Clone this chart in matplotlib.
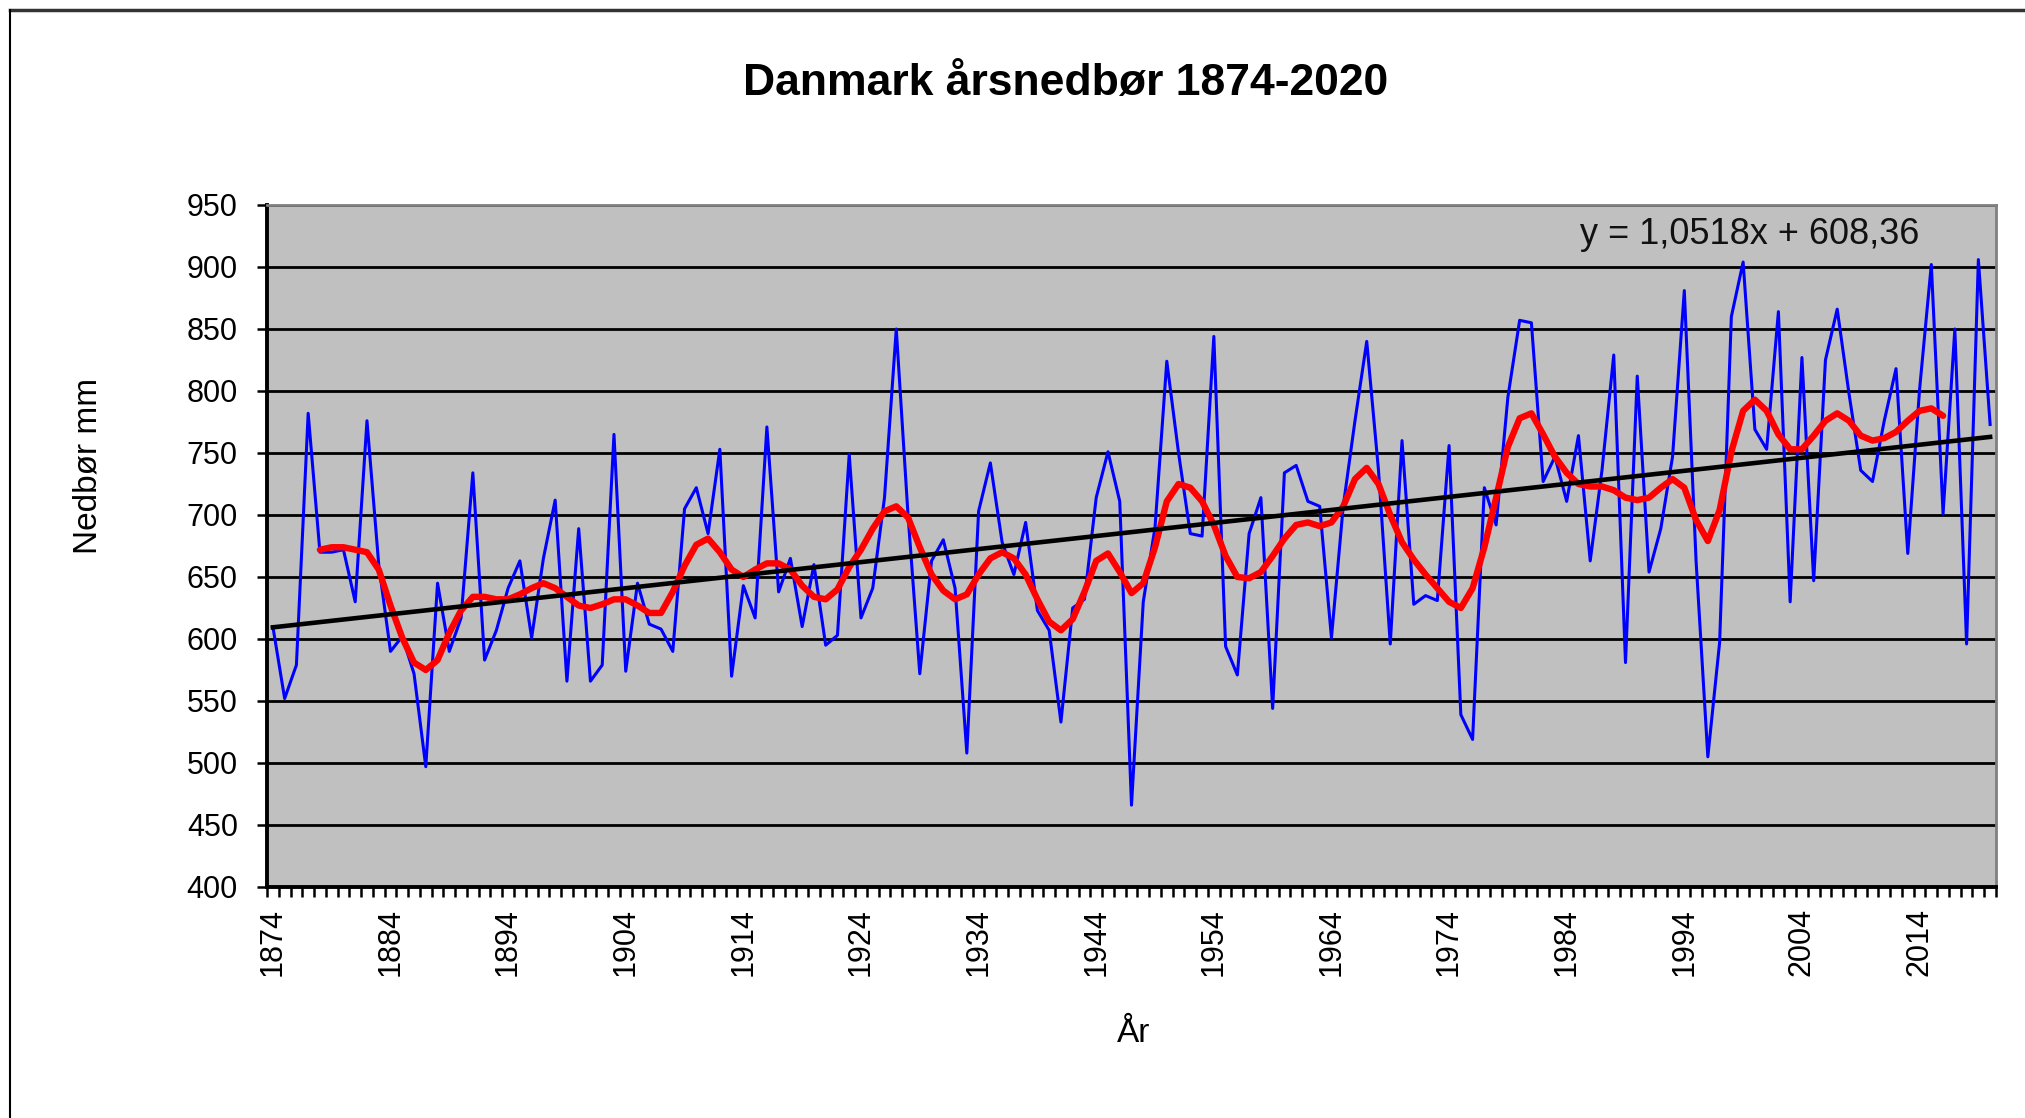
import matplotlib.pyplot as plt
from matplotlib.lines import Line2D
import numpy as np

plt.rcParams['font.family'] = ['Liberation Sans', 'DejaVu Sans']

# Årsnedbør i Danmark (mm)
aar = list(range(1874, 2021))
nedbor = [610, 552, 579, 782, 670, 670, 672, 630, 776, 660,
          590, 602, 572, 497, 645, 590, 617, 734, 583, 607,
          641, 663, 601, 665, 712, 566, 689, 566, 579, 765,
          574, 645, 612, 608, 590, 705, 722, 685, 753, 570,
          643, 617, 771, 638, 665, 610, 660, 595, 603, 749,
          617, 641, 714, 850, 700, 572, 663, 680, 641, 508,
          703, 742, 678, 652, 694, 623, 607, 533, 625, 632,
          714, 751, 711, 466, 630, 690, 824, 750, 685, 683,
          844, 594, 571, 685, 714, 544, 734, 740, 711, 707,
          601, 707, 776, 840, 736, 596, 760, 628, 635, 631,
          756, 539, 519, 722, 692, 795, 857, 855, 727, 747,
          711, 764, 663, 736, 829, 581, 812, 654, 689, 747,
          881, 663, 505, 597, 860, 904, 769, 753, 864, 630,
          827, 647, 825, 866, 798, 736, 727, 776, 818, 669,
          801, 902, 701, 850, 596, 906, 773]

# Udglattet kurve (rød), 1878-2016
glat_aar = list(range(1878, 2017))
glat = [672, 674, 674, 672, 670, 656, 627, 601, 581, 575,
        583, 605, 623, 634, 634, 632, 632, 636, 641, 645,
        641, 634, 627, 625, 628, 632, 632, 627, 621, 621,
        638, 659, 676, 681, 670, 656, 650, 656, 661, 661,
        656, 643, 634, 632, 640, 658, 672, 689, 703, 707,
        698, 674, 652, 639, 632, 636, 652, 665, 670, 665,
        652, 632, 614, 607, 616, 638, 663, 669, 654, 637,
        645, 674, 711, 725, 722, 711, 692, 667, 650, 649,
        654, 667, 681, 692, 694, 691, 694, 707, 729, 738,
        725, 700, 678, 664, 652, 641, 630, 625, 641, 674,
        714, 755, 778, 782, 765, 747, 734, 725, 723, 723,
        720, 714, 712, 714, 722, 729, 722, 696, 679, 704,
        751, 784, 793, 784, 765, 753, 753, 764, 776, 782,
        776, 764, 760, 762, 767, 776, 784, 786, 780]

# Lineær trend
haeldning = 1.0518
skaering = 608.36
ligning = 'y = 1,0518x + 608,36'

x = np.arange(len(aar))
x_glat = np.array(glat_aar) - aar[0]
trend = haeldning * (x + 1) + skaering

fig = plt.figure(figsize=(20.25, 11.18), dpi=100)
ax = fig.add_axes([267 / 2025, 1 - 887 / 1118, (1996 - 267) / 2025, (887 - 205) / 1118])
ax.set_facecolor('#c0c0c0')

ax.plot(x, nedbor, color='#0000ff', linewidth=2.2, zorder=3)
ax.plot(x_glat, glat, color='#ff0000', linewidth=4.6, solid_joinstyle='round',
        solid_capstyle='round', zorder=4)
ax.plot(x, trend, color='black', linewidth=3.3, zorder=5)

ax.text(111.1, 926, ligning, fontsize=26, ha='left', va='center', color='#111111')

ax.set_xlim(-0.5, len(aar) - 0.5)
ax.set_ylim(400, 950)
ax.set_yticks(range(400, 951, 50))
ax.yaxis.grid(True, color='black', linewidth=2.0)
ax.set_axisbelow(True)

ax.set_xticks(x[::10])
ax.set_xticklabels([str(a) for a in aar[::10]], rotation=90)
ax.set_xticks(np.arange(-0.5, len(aar), 1.0), minor=True)
ax.tick_params(axis='x', which='major', length=0, pad=15, labelsize=22)
ax.tick_params(axis='x', which='minor', length=7, width=1.8, direction='out')
ax.tick_params(axis='y', length=7, width=1.8, pad=14, labelsize=22)

for side in ['left', 'bottom']:
    ax.spines[side].set_linewidth(2.8)
    ax.spines[side].set_color('black')
for side in ['top', 'right']:
    ax.spines[side].set_linewidth(2)
    ax.spines[side].set_color('#808080')

fig.text(1066 / 2025, 1 - 83 / 1118, 'Danmark årsnedbør 1874-2020',
         fontsize=32, fontweight='bold', ha='center', va='center')
fig.text(88 / 2025, 1 - 466 / 1118, 'Nedbør mm', rotation=90,
         fontsize=24, ha='center', va='center')
fig.text(1134 / 2025, 1 - 1033 / 1118, 'År', fontsize=24, ha='center', va='center')

# Ramme omkring diagrammet
fig.add_artist(Line2D([10 / 2025, 1], [1 - 10 / 1118] * 2, color='#333333', linewidth=2.5))
fig.add_artist(Line2D([10 / 2025] * 2, [0, 1 - 10 / 1118], color='black', linewidth=1.5))

plt.savefig('out.png', dpi=100)
plt.close()
